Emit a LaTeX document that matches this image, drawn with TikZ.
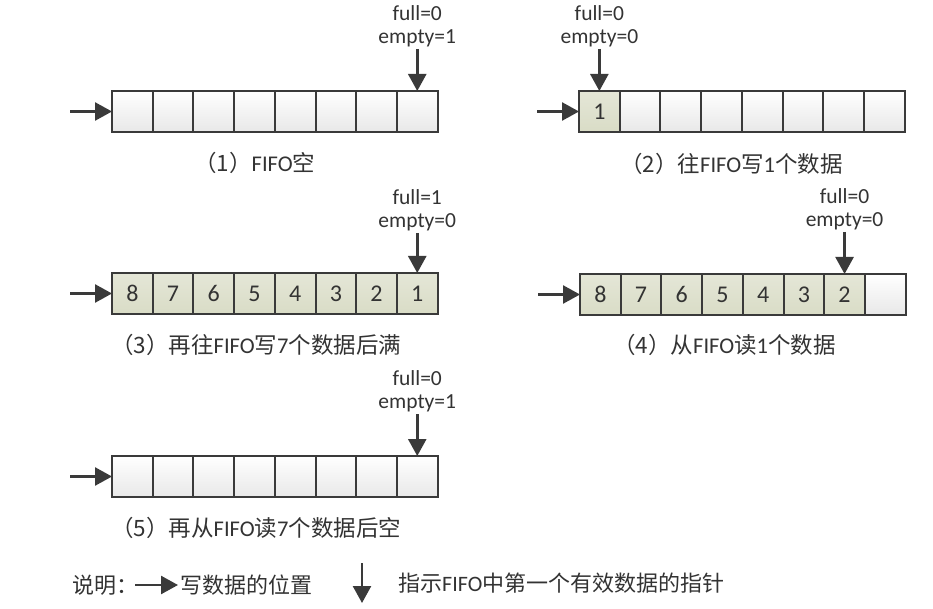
\documentclass[tikz,border=0pt]{standalone}
\usepackage{fontspec}
\setmainfont{Carlito}
\newfontfamily\cjk{Noto Sans CJK SC}
\usepackage{tikz}
\usetikzlibrary{positioning, arrows.meta}

\definecolor{framegray}{HTML}{3A3A3A}
\definecolor{datafill}{HTML}{D9DCC6}
\definecolor{textgray}{HTML}{333333}
\newcommand{\zh}[1]{{\cjk #1}}

\begin{document}
\begin{tikzpicture}[x=1pt, y=-1pt,
  cell/.style={draw=framegray, line width=2pt, top color=white, bottom color=black!9,
    minimum width=40.7pt, minimum height=41pt, inner sep=0pt, outer sep=0pt,
    font=\fontsize{24}{28}\selectfont, text=textgray},
  datacell/.style={cell, top color=datafill!70, bottom color=datafill},
  ptr/.style={draw=framegray, line width=2.5pt, -{Triangle[length=17pt, width=18pt]}},
  flag/.style={align=center, inner sep=2pt, text=textgray, font=\fontsize{21.5}{23}\selectfont},
  caption/.style={inner sep=0pt, text=textgray, font=\fontsize{22.5}{26}\selectfont},
  legend/.style={inner sep=2pt, text=textgray, font=\fontsize{22}{26}\selectfont}]
\useasboundingbox (0,0) rectangle (933,609);
% (1) FIFO empty
\foreach \i in {1,...,8}
  \node[cell] (a\i) at ({112+(\i-0.5)*40.7}, 111.5) {};
% (2) one word written
\node[datacell] (b1) at ({579+0.5*40.7}, 111.5) {1};
\foreach \i in {2,...,8}
  \node[cell] (b\i) at ({579+(\i-0.5)*40.7}, 111.5) {};
% (3) seven more written, full
\foreach \i/\v in {1/8, 2/7, 3/6, 4/5, 5/4, 6/3, 7/2, 8/1}
  \node[datacell] (c\i) at ({112+(\i-0.5)*40.7}, 293.5) {\v};
% (4) one word read
\foreach \i/\v in {1/8, 2/7, 3/6, 4/5, 5/4, 6/3, 7/2}
  \node[datacell] (d\i) at ({580+(\i-0.5)*40.7}, 294.5) {\v};
\node[cell] (d8) at ({580+7.5*40.7}, 294.5) {};
% (5) seven more read, empty
\foreach \i in {1,...,8}
  \node[cell] (e\i) at ({112+(\i-0.5)*40.7}, 476.5) {};
% write position arrows
\foreach \r in {a,b,c,d,e} {
  \coordinate[left=42pt of \r1] (\r0);
  \draw[ptr] (\r0) -- (\r1);
}
% read pointers with flags
\node[flag, above=42pt of a8] (aflag) {full=0\\empty=1};
\draw[ptr] (aflag) -- (a8);
\node[flag, above=42pt of b1] (bflag) {full=0\\empty=0};
\draw[ptr] (bflag) -- (b1);
\node[flag, above=40pt of c8] (cflag) {full=1\\empty=0};
\draw[ptr] (cflag) -- (c8);
\node[flag, above=42pt of d7] (dflag) {full=0\\empty=0};
\draw[ptr] (dflag) -- (d7);
\node[flag, above=42pt of e8] (eflag) {full=0\\empty=1};
\draw[ptr] (eflag) -- (e8);
% captions
\node[caption, anchor=west] (acap) at (194,163) {\zh{（1）}FIFO\zh{空}};
\node[caption, anchor=west] (bcap) at (620,164) {\zh{（2）往}FIFO\zh{写}1\zh{个数据}};
\node[caption, anchor=west] (ccap) at (111,345) {\zh{（3）再往}FIFO\zh{写}7\zh{个数据后满}};
\node[caption, anchor=west] (dcap) at (613,345) {\zh{（4）从}FIFO\zh{读}1\zh{个数据}};
\node[caption, anchor=west] (ecap) at (111,528) {\zh{（5）再从}FIFO\zh{读}7\zh{个数据后空}};
% legend
\node[legend, anchor=west] (note) at (70,585) {\zh{说明：}};
\coordinate (wtail) at (135,585);
\node[legend, anchor=west] (wpos) at (178,585) {\zh{写数据的位置}};
\draw[ptr] (wtail) -- (wpos);
\coordinate (rtop) at (362,563);
\coordinate (rtip) at (362,603);
\draw[ptr] (rtop) -- (rtip);
\node[legend, anchor=west] (rdesc) at (396,583) {\zh{指示}FIFO\zh{中第一个有效数据的指针}};
\end{tikzpicture}
\end{document}
